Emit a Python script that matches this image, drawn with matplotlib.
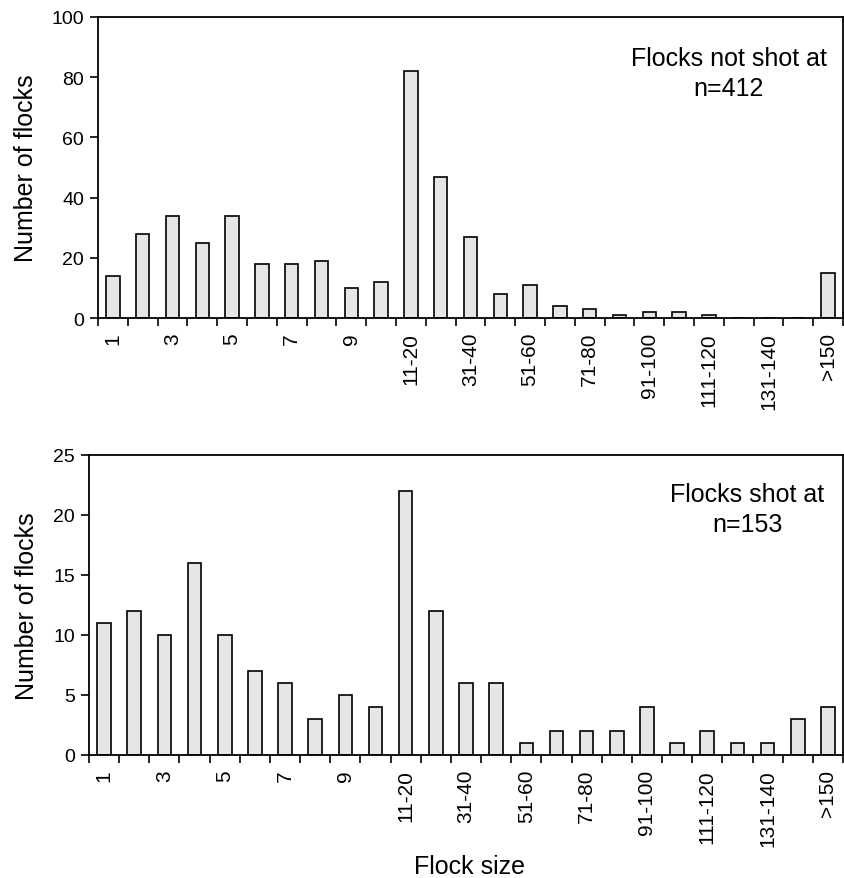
import matplotlib.pyplot as plt
import numpy as np

categories = ['1', '2', '3', '4', '5', '6', '7', '8', '9', '10',
              '11-20', '21-30', '31-40', '41-50', '51-60', '61-70', '71-80',
              '81-90', '91-100', '101-110', '111-120', '121-130', '131-140',
              '141-150', '>150']
not_shot = [14, 28, 34, 25, 34, 18, 18, 19, 10, 12, 82, 47, 27, 8, 11, 4, 3,
            1, 2, 2, 1, 0, 0, 0, 15]
shot = [11, 12, 10, 16, 10, 7, 6, 3, 5, 4, 22, 12, 6, 6, 1, 2, 2, 2, 4, 1, 2,
        1, 1, 3, 4]

plt.rcParams['font.family'] = ['Liberation Sans', 'DejaVu Sans']

fig = plt.figure(figsize=(8.45, 8.79), dpi=100)
ax1 = fig.add_axes([98 / 845, 1 - 319 / 879, 745 / 845, 301 / 879])
ax2 = fig.add_axes([89 / 845, 1 - 756 / 879, 754 / 845, 300 / 879])

x = np.arange(len(categories))


def draw(ax, vals, ymax, step, title, n_text, tx, ty):
    ax.bar(x, vals, width=0.45, color='#e6e6e6', edgecolor='black', linewidth=1.2)
    ax.set_xlim(-0.5, len(categories) - 0.5)
    ax.set_ylim(0, ymax)
    ax.set_yticks(np.arange(0, ymax + 1, step))
    ax.tick_params(axis='y', labelsize=14, length=6, width=1.2, direction='out', pad=4)
    ax.set_xticks(x[::2])
    ax.set_xticklabels(categories[::2], rotation=90, fontsize=15)
    ax.set_xticks(np.arange(-0.5, len(categories)), minor=True)
    ax.tick_params(axis='x', which='major', length=0, pad=10)
    ax.tick_params(axis='x', which='minor', length=6, width=1.2, direction='out')
    for s in ax.spines.values():
        s.set_linewidth(1.3)
    ax.set_ylabel('Number of flocks', fontsize=18)
    ax.text(tx, ty, title, transform=ax.transAxes, ha='center', va='baseline', fontsize=18)
    ax.text(tx, ty - 0.1, n_text, transform=ax.transAxes, ha='center', va='baseline', fontsize=18)


draw(ax1, not_shot, 100, 20, 'Flocks not shot at', 'n=412', 0.847, 0.84)
draw(ax2, shot, 25, 5, 'Flocks shot at', 'n=153', 0.873, 0.846)
ax1.yaxis.set_label_coords(-0.08, 0.5)
ax2.yaxis.set_label_coords(-0.066, 0.5)
fig.text(470 / 845, 1 - 874 / 879, 'Flock size', ha='center', va='baseline', fontsize=18)

fig.savefig('out.png', dpi=100)
